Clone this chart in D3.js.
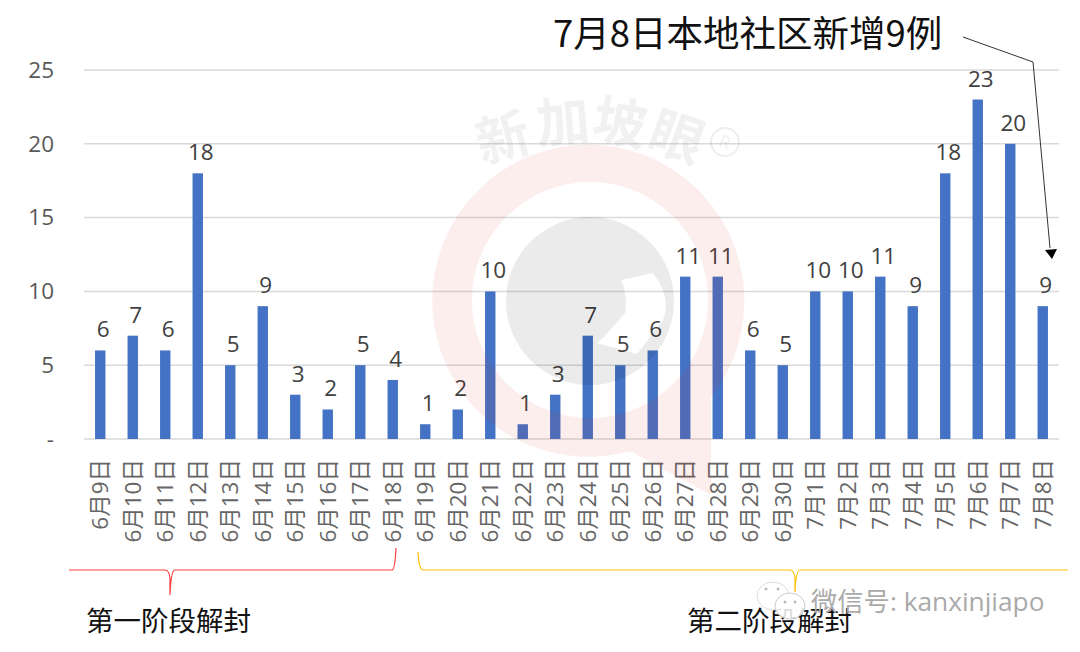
<!DOCTYPE html>
<html>
<head>
<meta charset="utf-8">
<script src="https://d3js.org/d3.v7.min.js"></script>
<style>
  html, body { margin: 0; padding: 0; background: #fff; }
  text { font-family: "Open Sans", "Noto Sans CJK SC", sans-serif; }
</style>
</head>
<body>
<div id="chart"></div>
<script>
// Values
const dates = ["6月9日","6月10日","6月11日","6月12日","6月13日","6月14日","6月15日","6月16日","6月17日","6月18日",
  "6月19日","6月20日","6月21日","6月22日","6月23日","6月24日","6月25日","6月26日","6月27日","6月28日","6月29日","6月30日",
  "7月1日","7月2日","7月3日","7月4日","7月5日","7月6日","7月7日","7月8日"];
const cases = [6,7,6,18,5,9,3,2,5,4,1,2,10,1,3,7,5,6,11,11,6,5,10,10,11,9,18,23,20,9];
const yTicks = [0,5,10,15,20,25];
const titleText = "7月8日本地社区新增9例";
const phaseOne = "第一阶段解封";
const phaseTwo = "第二阶段解封";

const cjk = '"Noto Sans CJK SC", sans-serif';

const svg = d3.select("#chart").append("svg")
  .attr("width", 1080)
  .attr("height", 652)
  .style("display", "block");

const x = d3.scaleBand()
  .domain(dates)
  .range([84, 1059])
  .paddingInner(0.68)
  .paddingOuter(0.34);

const y = d3.scaleLinear()
  .domain([0, 25])
  .range([439, 70]);

// Y axis, zero shows as a dash
const yAxis = svg.append("g")
  .attr("transform", "translate(84,0)")
  .call(d3.axisLeft(y).tickValues(yTicks).tickSize(0).tickPadding(30)
    .tickFormat(d => d === 0 ? "-" : d));
yAxis.select(".domain").remove();
yAxis.selectAll("text").attr("font-size", 22.5).attr("fill", "#595959");

// Grid
svg.append("g").selectAll("line")
  .data(yTicks)
  .enter()
  .append("line")
    .attr("x1", 84)
    .attr("x2", 1059)
    .attr("y1", d => y(d))
    .attr("y2", d => y(d))
    .attr("stroke", "#d9d9d9")
    .attr("stroke-width", 1.5);

// Bars
svg.append("g").selectAll("rect")
  .data(cases)
  .enter()
  .append("rect")
    .attr("x", (d, i) => x(dates[i]))
    .attr("y", d => y(d))
    .attr("width", x.bandwidth())
    .attr("height", d => y(0) - y(d))
    .attr("fill", "#4472c4");

// Value labels
svg.append("g").selectAll("text")
  .data(cases)
  .enter()
  .append("text")
    .attr("x", (d, i) => x(dates[i]) + x.bandwidth() / 2 + 3)
    .attr("y", d => y(d) - 13)
    .attr("text-anchor", "middle")
    .attr("font-size", 22.5)
    .attr("fill", "#404040")
    .text(d => d);

// Date labels
svg.append("g").selectAll("text")
  .data(dates)
  .enter()
  .append("text")
    .attr("transform", d => `translate(${x(d) + x.bandwidth() / 2},459) rotate(-90)`)
    .attr("dy", "0.36em")
    .attr("text-anchor", "end")
    .attr("font-size", 22.5)
    .attr("fill", "#666")
    .text(d => d);

// Title and arrow
svg.append("text")
  .attr("x", 553)
  .attr("y", 47)
  .attr("font-size", 36.5)
  .attr("fill", "#111")
  .style("font-family", cjk)
  .text(titleText);

svg.append("path")
  .attr("d", "M963,37L1033,62L1050,248")
  .attr("fill", "none")
  .attr("stroke", "#333")
  .attr("stroke-width", 1);
svg.append("path")
  .attr("d", "M1045,250L1057,249L1052,259Z")
  .attr("fill", "#000");

// Phase brackets
svg.append("path")
  .attr("d", "M69,570H165Q169,570 170,578V595Q171,570 175,570H392Q395,570 396,548")
  .attr("fill", "none")
  .attr("stroke", "#ff3b3b")
  .attr("stroke-width", 1.2);
svg.append("path")
  .attr("d", "M418,552Q419,570 423,570H790Q794,570 795,578V592Q796,570 800,570H1068")
  .attr("fill", "none")
  .attr("stroke", "#ffc000")
  .attr("stroke-width", 1.2);

svg.append("text")
  .attr("x", 86)
  .attr("y", 631)
  .attr("font-size", 27.5)
  .attr("fill", "#111")
  .style("font-family", cjk)
  .text(phaseOne);
svg.append("text")
  .attr("x", 687)
  .attr("y", 631)
  .attr("font-size", 27.5)
  .attr("fill", "#111")
  .style("font-family", cjk)
  .text(phaseTwo);

// Watermark over the chart
const mark = svg.append("g").attr("pointer-events", "none");
mark.append("path")
  .attr("fill-rule", "evenodd")
  .attr("fill", "#e8202a")
  .attr("fill-opacity", 0.08)
  .attr("d", "M630,451A156,156 0 1 1 711,397L711,495Z"
    + "M590,182A118,118 0 1 0 590,418A118,118 0 1 0 590,182Z");
mark.append("path")
  .attr("fill-rule", "evenodd")
  .attr("fill", "#000")
  .attr("fill-opacity", 0.08)
  .attr("d", "M590,217A84,84 0 1 0 590,385A84,84 0 1 0 590,217Z"
    + "M621,280L653,273Q672,298 663,320L637,354L597,343L603,338L625,313Q628,295 621,280Z");

const markChars = [
  {ch: "新", cx: 503, cy: 138, rot: -15},
  {ch: "加", cx: 563, cy: 122, rot: -5},
  {ch: "坡", cx: 620, cy: 123, rot: 10},
  {ch: "眼", cx: 677, cy: 137, rot: 20}
];
mark.append("g").selectAll("text")
  .data(markChars)
  .enter()
  .append("text")
    .attr("transform", d => `translate(${d.cx},${d.cy}) rotate(${d.rot})`)
    .attr("text-anchor", "middle")
    .attr("dy", "0.36em")
    .attr("font-size", 54)
    .attr("font-weight", 700)
    .attr("fill", "#000")
    .attr("fill-opacity", 0.055)
    .style("font-family", cjk)
    .text(d => d.ch);
mark.append("circle")
  .attr("cx", 725)
  .attr("cy", 142)
  .attr("r", 14)
  .attr("fill", "none")
  .attr("stroke", "#000")
  .attr("stroke-opacity", 0.07)
  .attr("stroke-width", 2);
mark.append("text")
  .attr("transform", "translate(725,142) rotate(20)")
  .attr("text-anchor", "middle")
  .attr("dy", "0.36em")
  .attr("font-size", 18)
  .attr("fill", "#000")
  .attr("fill-opacity", 0.08)
  .text("R");

// WeChat id in the corner
const wechat = svg.append("g");
wechat.append("ellipse").attr("cx", 773).attr("cy", 596).attr("rx", 16).attr("ry", 14)
  .attr("fill", "#fff").attr("fill-opacity", 0.85).attr("stroke", "#ddd");
wechat.append("ellipse").attr("cx", 790).attr("cy", 606).attr("rx", 15).attr("ry", 13)
  .attr("fill", "#fff").attr("fill-opacity", 0.85).attr("stroke", "#ccc");
wechat.selectAll("circle")
  .data([[766, 589], [778, 589], [785, 602], [795, 602]])
  .enter()
  .append("circle")
    .attr("cx", d => d[0])
    .attr("cy", d => d[1])
    .attr("r", 1.5)
    .attr("fill", "#bbb");
wechat.append("text")
  .attr("x", 811)
  .attr("y", 611)
  .attr("font-size", 26.3)
  .attr("fill", "#aaa")
  .text("微信号: kanxinjiapo");
</script>
</body>
</html>
